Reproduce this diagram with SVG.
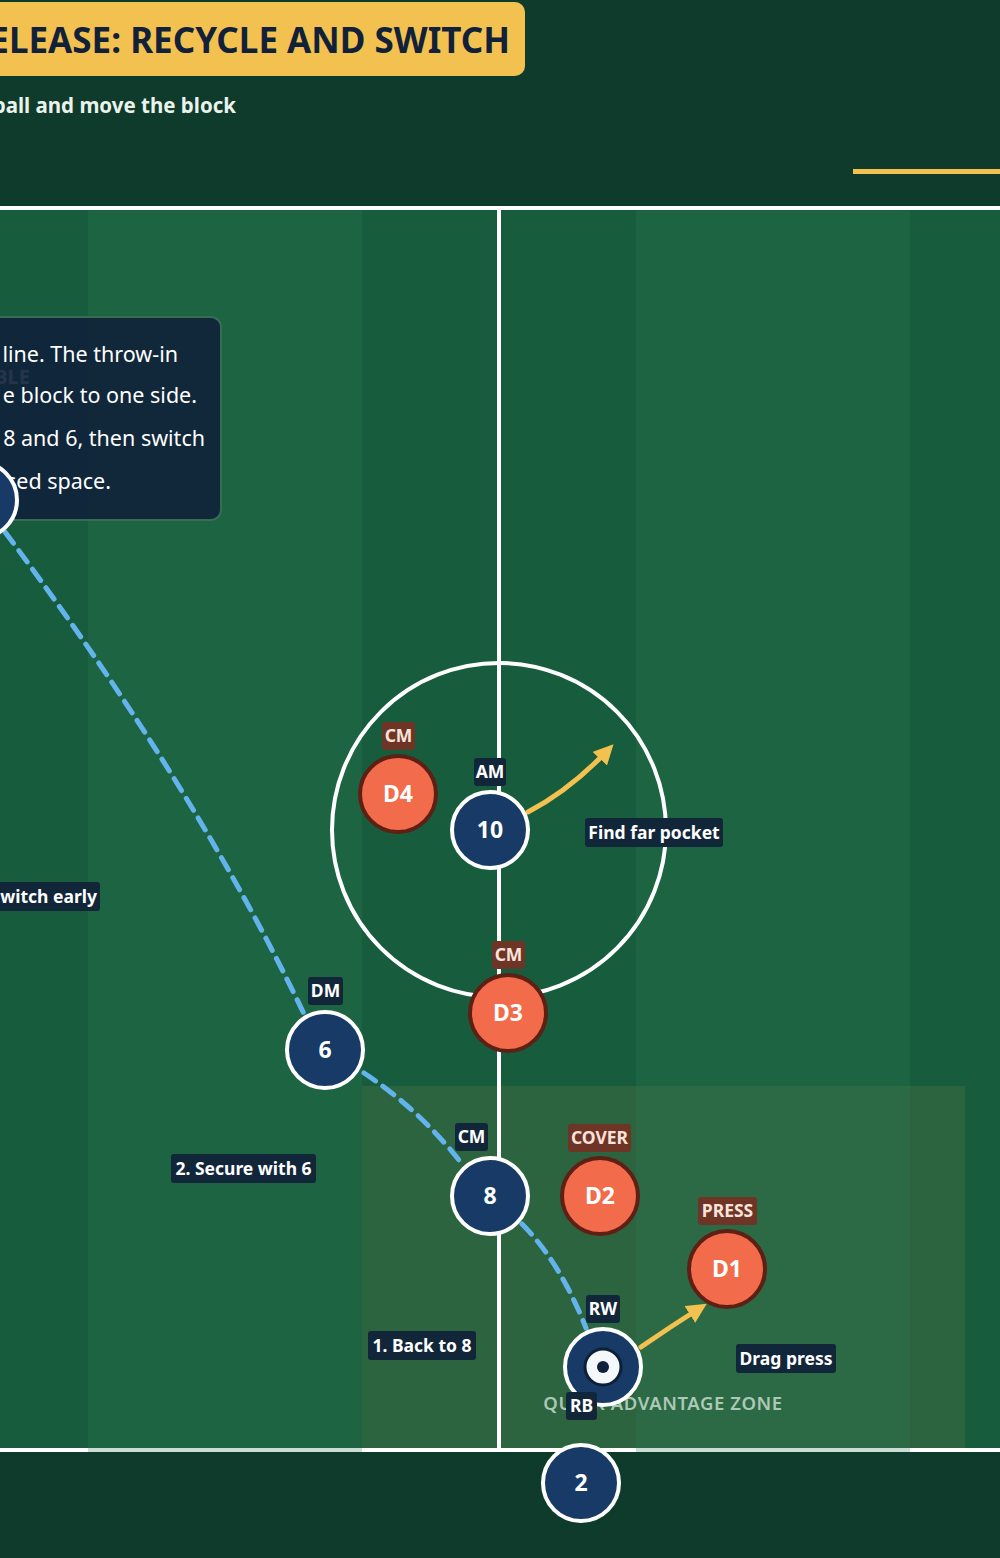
<svg xmlns="http://www.w3.org/2000/svg" width="1000" height="1558" viewBox="0 0 1000 1558">
<defs>
<style>
.txt{font-family:"Noto Sans","Open Sans","Liberation Sans",sans-serif}
.chip{fill:#12263a}
.chipt{font-family:"Noto Sans","Open Sans","Liberation Sans",sans-serif;font-size:17.5px;font-weight:700;fill:#ffffff;text-anchor:middle}
.dchip{fill:#6e3426}
.dchipt{font-family:"Noto Sans","Open Sans","Liberation Sans",sans-serif;font-size:17.5px;font-weight:700;fill:#f9e3da;text-anchor:middle}
.att{fill:#173a66;stroke:#ffffff;stroke-width:4}
.def{fill:#f26b4a;stroke:#5e1f14;stroke-width:4}
.num{font-family:"Noto Sans","Open Sans","Liberation Sans",sans-serif;font-size:23px;font-weight:700;fill:#ffffff;text-anchor:middle}
.line{stroke:#ffffff;stroke-width:4;fill:none}
.pass{stroke:#63b3ed;stroke-width:5;fill:none;stroke-dasharray:14 9;stroke-linecap:round}
.run{stroke:#f3c14f;stroke-width:5;fill:none;stroke-linecap:round}
.info{font-family:"Noto Sans","Open Sans","Liberation Sans",sans-serif;font-size:21.5px;fill:#ffffff;text-anchor:end}
</style>
<marker id="ah" viewBox="0 0 10 10" refX="6" refY="5" markerWidth="4" markerHeight="4" orient="auto" markerUnits="strokeWidth">
<path d="M0,0 L10,5 L0,10 z" fill="#f3c14f"/>
</marker>
</defs>
<rect x="0" y="0" width="1000" height="1558" fill="#0e3b2b"/>
<g id="header">
<rect x="-40" y="2" width="565" height="74" rx="10" fill="#f3c14f"/>
<text class="txt" x="510" y="53" font-size="35" font-weight="700" fill="#12213a" text-anchor="end">ELEASE: RECYCLE AND SWITCH</text>
<text class="txt" x="236" y="113" font-size="20.5" font-weight="700" fill="#eaf2ec" text-anchor="end">ball and move the block</text>
<rect x="853" y="169" width="147" height="5" fill="#f3c14f"/>
</g>
<g id="pitch">
<rect x="0" y="208" width="1000" height="1242" fill="#185c3e"/>
<rect x="362" y="1086" width="603" height="364" fill="#f3c14f" opacity="0.09"/>
<line class="line" x1="0" y1="208" x2="1000" y2="208"/>
<line class="line" x1="0" y1="1450" x2="1000" y2="1450"/>
<rect x="88" y="210" width="274" height="1242" fill="#2a7a55" opacity="0.25"/>
<rect x="636" y="210" width="274" height="1242" fill="#2a7a55" opacity="0.25"/>
<line class="line" x1="499" y1="210" x2="499" y2="1449"/>
<circle class="line" cx="499" cy="830" r="167"/>
<text class="txt" x="663" y="1410" font-size="18.5" font-weight="600" fill="#c3d9cb" opacity="0.85" text-anchor="middle" letter-spacing="0.6">QUICK ADVANTAGE ZONE</text>
</g>
<g id="note">
<text class="txt" x="30" y="384" font-size="20" font-weight="700" fill="#e6ece8" text-anchor="end">BLE</text>
<rect x="-30" y="317" width="251" height="203" rx="10" fill="#10213a" opacity="0.9" stroke="#3a6e55" stroke-width="2"/>
<text class="info" x="178" y="362">line. The throw-in</text>
<text class="info" x="197" y="403">e block to one side.</text>
<text class="info" x="205" y="446">8 and 6, then switch</text>
<text class="info" x="111" y="489">sed space.</text>
</g>
<g id="connectors">
<path class="pass" d="M5,532 Q195,786 305,1016"/>
<path class="pass" d="M364,1073 Q420,1110 462,1164"/>
<path class="pass" d="M522,1224 Q560,1262 586,1328"/>
<path class="run" d="M528,812 Q570,790 608,750" marker-end="url(#ah)"/>
<path class="run" d="M641,1347 Q670,1327 700,1308" marker-end="url(#ah)"/>
</g>
<g id="label-find">
<rect class="chip" x="585" y="818" width="138" height="29" rx="3"/>
<text class="chipt" x="654" y="839">Find far pocket</text>
</g>
<g id="label-switch">
<rect class="chip" x="-10" y="882" width="110" height="29" rx="3"/>
<text class="chipt" x="97" y="903" style="text-anchor:end">witch early</text>
</g>
<g id="label-secure">
<rect class="chip" x="171" y="1154" width="145" height="29" rx="3"/>
<text class="chipt" x="243.5" y="1175">2. Secure with 6</text>
</g>
<g id="label-back">
<rect class="chip" x="368" y="1331" width="108" height="29" rx="3"/>
<text class="chipt" x="422" y="1352">1. Back to 8</text>
</g>
<g id="label-drag">
<rect class="chip" x="736" y="1344" width="100" height="29" rx="3"/>
<text class="chipt" x="786" y="1365">Drag press</text>
</g>
<g id="node-left">
<circle class="att" cx="-21" cy="500" r="38"/>
</g>
<g id="node-D4">
<rect class="dchip" x="382" y="722" width="33" height="28" rx="3"/>
<text class="dchipt" x="398.5" y="742">CM</text>
<circle class="def" cx="398" cy="794" r="38"/>
<text class="num" x="398" y="802">D4</text>
</g>
<g id="node-10">
<rect class="chip" x="474" y="758" width="32" height="28" rx="3"/>
<text class="chipt" x="490" y="778">AM</text>
<circle class="att" cx="490" cy="830" r="38"/>
<text class="num" x="490" y="838">10</text>
</g>
<g id="node-D3">
<rect class="dchip" x="492" y="941" width="33" height="28" rx="3"/>
<text class="dchipt" x="508.5" y="961">CM</text>
<circle class="def" cx="508" cy="1013" r="38"/>
<text class="num" x="508" y="1021">D3</text>
</g>
<g id="node-6">
<rect class="chip" x="308" y="977" width="35" height="28" rx="3"/>
<text class="chipt" x="325.5" y="997">DM</text>
<circle class="att" cx="325" cy="1050" r="38"/>
<text class="num" x="325" y="1058">6</text>
</g>
<g id="node-8">
<rect class="chip" x="455" y="1123" width="33" height="28" rx="3"/>
<text class="chipt" x="471.5" y="1143">CM</text>
<circle class="att" cx="490" cy="1196" r="38"/>
<text class="num" x="490" y="1204">8</text>
</g>
<g id="node-D2">
<rect class="dchip" x="568" y="1124" width="63" height="28" rx="3"/>
<text class="dchipt" x="599.5" y="1144">COVER</text>
<circle class="def" cx="600" cy="1196" r="38"/>
<text class="num" x="600" y="1204">D2</text>
</g>
<g id="node-D1">
<rect class="dchip" x="698" y="1197" width="59" height="28" rx="3"/>
<text class="dchipt" x="727.5" y="1217">PRESS</text>
<circle class="def" cx="727" cy="1269" r="38"/>
<text class="num" x="727" y="1277">D1</text>
</g>
<g id="node-RW">
<rect class="chip" x="586" y="1295" width="34" height="28" rx="3"/>
<text class="chipt" x="603" y="1315">RW</text>
<circle class="att" cx="603" cy="1367" r="38"/>
<circle cx="603" cy="1367" r="18" fill="#f4f8fb" stroke="#0e2038" stroke-width="3"/>
<circle cx="603" cy="1367" r="6" fill="#12213a"/>
</g>
<g id="node-2">
<rect class="chip" x="566" y="1392" width="31" height="28" rx="3"/>
<text class="chipt" x="581.5" y="1412">RB</text>
<circle class="att" cx="581" cy="1483" r="38"/>
<text class="num" x="581" y="1491">2</text>
</g>
</svg>
